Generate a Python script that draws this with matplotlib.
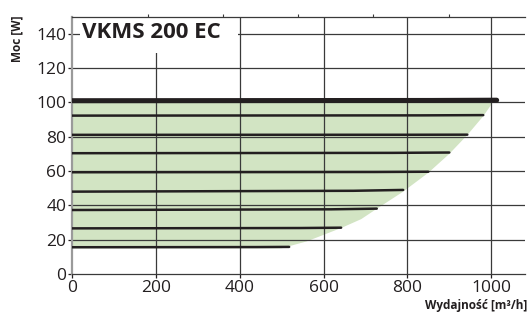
import matplotlib
matplotlib.use("Agg")
import matplotlib.pyplot as plt
from matplotlib.patches import Rectangle

# operating curves
line_x_end = [1013, 981, 943, 900, 850, 790, 727, 642, 518]
line_y_start = [101, 92.3, 81.1, 70.4, 59.3, 48.0, 37.3, 26.6, 15.6]
line_y_end = [101.3, 92.6, 81.2, 70.8, 59.6, 49.0, 38.1, 27.0, 15.8]
line_w = [3.6, 1.8, 1.8, 1.8, 1.8, 1.8, 1.8, 1.8, 1.8]

# green working area boundary
area_x = [0, 500, 560, 644, 690, 727, 790, 850, 900, 943, 981, 1001, 1001, 0]
area_y = [15, 15, 19, 27, 32, 38, 48, 59, 70, 81, 92, 99, 101, 101]

xticks = [0, 200, 400, 600, 800, 1000]
yticks = [0, 20, 40, 60, 80, 100, 120, 140]
top_minor = [181, 360, 539, 718, 900]

plt.rcParams["font.family"] = ["Open Sans", "DejaVu Sans"]
dark = "#231f20"

fig = plt.figure(figsize=(5.29, 3.17), dpi=100)
ax = fig.add_axes([0.136, 0.1356, 0.856, 0.812])
ax.set_xlim(0, 1080)
ax.set_ylim(0, 150)

ax.fill(area_x, area_y, color="#d2e4c3", lw=0, zorder=1)

for x in xticks[1:]:
    ax.axvline(x, color="#3a3a3a", lw=0.9, zorder=2)
for y in yticks[1:]:
    ax.axhline(y, color="#3a3a3a", lw=0.9, zorder=2)

for xe, y0, y1, w in zip(line_x_end, line_y_start, line_y_end, line_w):
    ax.plot([0, xe * 0.85, xe], [y0, y0 + (y1 - y0) * 0.5, y1],
            color=dark, lw=w, solid_capstyle="round", zorder=4)

# white box behind the title
ax.add_patch(Rectangle((20, 129), 375, 21, facecolor="white", edgecolor="none", zorder=3))
ax.text(24, 140.5, "VKMS 200 EC", fontsize=16, fontweight="bold", color=dark,
        va="center", ha="left", zorder=6)

ax.set_xticks(xticks)
ax.set_yticks(yticks)
ax.tick_params(labelsize=12.5, colors=dark, length=3, width=0.9, pad=1)
ax.spines["bottom"].set_color("#3a3a3a")
ax.spines["bottom"].set_linewidth(0.9)
ax.spines["left"].set_color("#9a9a9a")
ax.spines["left"].set_linewidth(1.6)
ax.spines["right"].set_visible(False)
ax.spines["top"].set_visible(False)

ax2 = ax.twiny()
ax2.set_xlim(ax.get_xlim())
ax2.set_xticks(top_minor)
ax2.set_xticklabels([])
ax2.tick_params(length=2, width=0.8, colors="#3a3a3a")
for s in ["left", "right", "bottom"]:
    ax2.spines[s].set_visible(False)
ax2.spines["top"].set_color("#3a3a3a")
ax2.spines["top"].set_linewidth(0.9)

fig.text(0.033, 0.95, "Moc [W]", rotation=90, fontsize=8.5, fontweight="bold",
         color=dark, ha="center", va="top")
fig.text(0.997, 0.015, "Wydajność [m³/h]", fontsize=8.5, fontweight="bold",
         color=dark, ha="right", va="bottom")

fig.savefig("out.png", dpi=100)
